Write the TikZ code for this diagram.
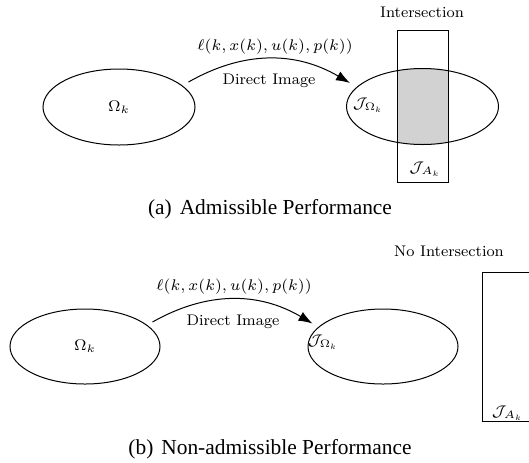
\RequirePackage{fix-cm}
\documentclass[tikz,border=0pt]{standalone}
\usepackage{amsfonts, amssymb, amsmath}
\usepackage{fontspec}
\newfontfamily\capfont{Liberation Serif}
\usetikzlibrary{arrows,arrows.meta,positioning,shapes,backgrounds}

\begin{document}
\begin{tikzpicture}[x=0.5pt,y=0.5pt,line width=0.5pt,
	every node/.style={font=\fontsize{7.7}{9}\selectfont},
	set/.style={draw,ellipse,minimum width=76pt,minimum height=38pt,inner sep=0pt},
	perf/.style={draw,minimum width=25.5pt,inner sep=0pt},
	map/.style={-{Latex[length=7pt,width=5pt]},bend left=30},
	subcap/.style={font=\capfont\fontsize{10.7}{12}\selectfont,anchor=base}]
	\useasboundingbox (0,0) rectangle (529,-462);

	% (a) the image meets the admissible set
	\node[set]		(om1)	at (119,-107)		{$\Omega_k$};
	\node[set]		(jom1)	at (422.5,-106.5)	{};
	\node[perf,minimum height=76pt]	(ja1)	at (422.5,-106)	{};
	\begin{scope}[on background layer]
		\clip (jom1.center) ellipse [x radius=38pt, y radius=19pt];
		\fill[gray!35] (ja1.north west) rectangle (ja1.south east);
	\end{scope}
	\node[]			(jo1)	at (368,-105)	{$\mathcal{J}_{\Omega_k}$};
	\node[]			(jal1)	at (425,-169)	{$\mathcal{J}_{A_k}$};
	\node[]			(int1)	at (422,-12)	{Intersection};

	\draw[map] ([shift={(-7,25)}]om1.east) to ([shift={(4,23.5)}]jom1.west);
	\node[]			(l1)	at (275,-47)	{$\ell(k,x(k),u(k),p(k))$};
	\node[]			(di1)	at (269,-81)	{Direct Image};

	\node[subcap]	(capa)	at (270,-214)	{(a)\hspace{4pt}Admissible Performance};

	% (b) no common part, the box sits to the right
	\node[set,minimum width=75pt,minimum height=37.5pt]	(om2)	at (85,-346.5)	{$\Omega_k$};
	\node[set,minimum width=75pt,minimum height=37.5pt]	(jom2)	at (383,-346.5)	{};
	\node[perf,minimum height=74.5pt]	(ja2)	at (507.5,-346.5)	{};
	\node[]			(jo2)	at (323,-342)	{$\mathcal{J}_{\Omega_k}$};
	\node[]			(jal2)	at (507.5,-413)	{$\mathcal{J}_{A_k}$};
	\node[]			(int2)	at (449,-251)	{No Intersection};

	\draw[map] ([shift={(-8,24.5)}]om2.east) to ([shift={(5,23)}]jom2.west);
	\node[]			(l2)	at (234,-287)	{$\ell(k,x(k),u(k),p(k))$};
	\node[]			(di2)	at (233,-322)	{Direct Image};

	\node[subcap]	(capb)	at (270,-454)	{(b)\hspace{4pt}Non-admissible Performance};
\end{tikzpicture}
\end{document}
